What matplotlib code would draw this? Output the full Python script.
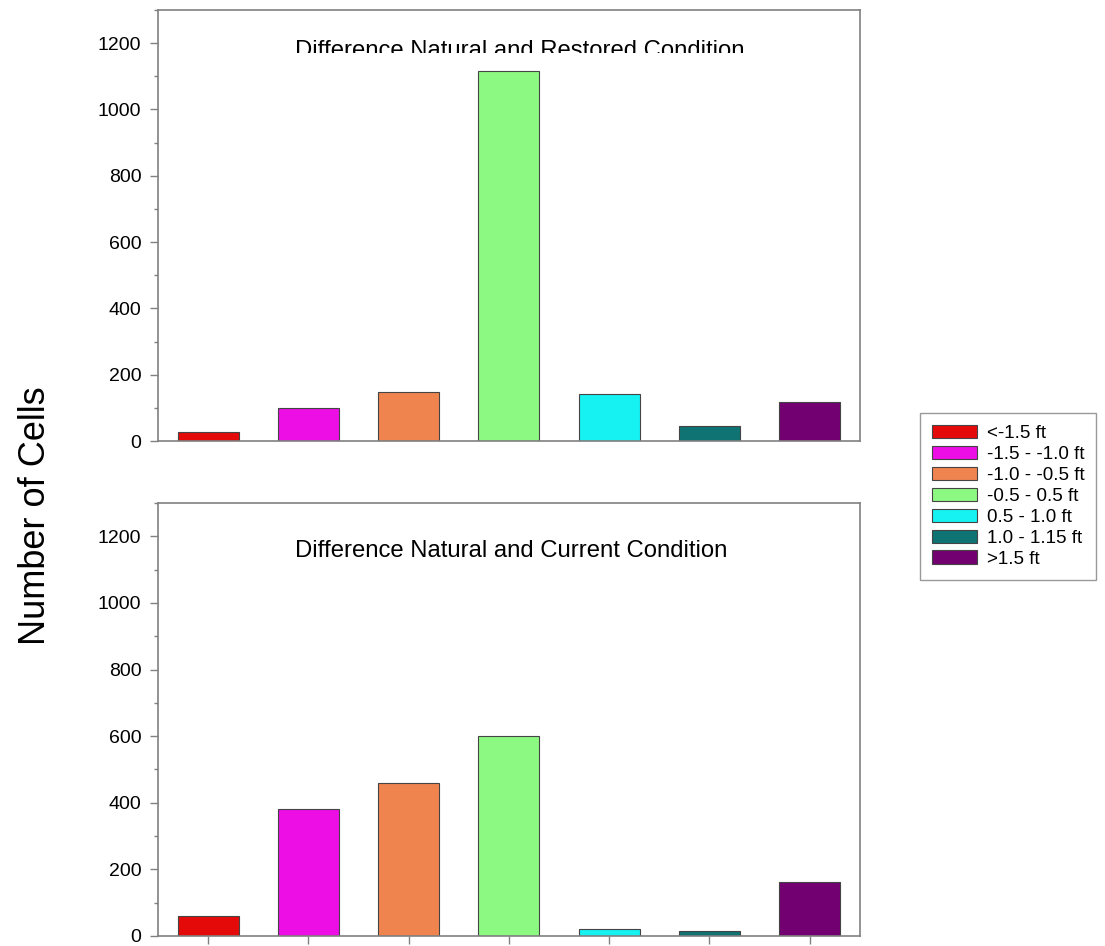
import matplotlib
matplotlib.use("Agg")
import matplotlib.pyplot as plt
from matplotlib.ticker import MultipleLocator, NullFormatter
from matplotlib.patches import Patch, Rectangle

plt.rcParams['font.family'] = ['Liberation Sans', 'DejaVu Sans']

# data
categories = ['<-1.5 ft', '-1.5 - -1.0 ft', '-1.0 - -0.5 ft', '-0.5 - 0.5 ft',
              '0.5 - 1.0 ft', '1.0 - 1.15 ft', '>1.5 ft']
restored = [28, 100, 147, 1115, 143, 46, 118]
current = [60, 380, 460, 600, 20, 15, 162]
colors = ['#e40a0a', '#ec0ee4', '#f0844f', '#8cf982', '#16f1f2', '#0f7373', '#730070']
titles = ['Difference Natural and Restored Condition', 'Difference Natural and Current Condition']

fig = plt.figure(figsize=(11.05, 9.46), dpi=100)
ax1 = fig.add_axes([0.143, 0.5338, 0.635, 0.4556])
ax2 = fig.add_axes([0.143, 0.0106, 0.635, 0.4577])

x = list(range(len(categories)))
setup = [(ax1, restored, titles[0], False, 0.516, 0.905),
         (ax2, current, titles[1], True, 0.503, 0.89)]
for ax, vals, title, xticks, tx, ty in setup:
    ax.bar(x, vals, width=0.61, color=colors, edgecolor='#444444', linewidth=0.8)
    ax.set_xlim(-0.5, 6.5)
    ax.set_ylim(0, 1300)
    ax.yaxis.set_major_locator(MultipleLocator(200))
    ax.yaxis.set_minor_locator(MultipleLocator(100))
    ax.yaxis.set_minor_formatter(NullFormatter())
    ax.tick_params(axis='y', which='major', length=6, width=1, color='#808080',
                   labelsize=14, pad=6)
    ax.tick_params(axis='y', which='minor', length=3, width=1, color='#808080')
    if xticks:
        ax.set_xticks(x)
        ax.set_xticklabels([])
        ax.tick_params(axis='x', length=6, width=1, color='#808080')
    else:
        ax.set_xticks([])
    for s in ax.spines.values():
        s.set_color('#808080')
        s.set_linewidth(1.2)
    ax.text(tx, ty, title, transform=ax.transAxes, ha='center', va='center',
            fontsize=17.2, bbox=dict(facecolor='white', edgecolor='none', pad=6))

# the top title's lower edge is clipped in the original
ax1.add_patch(Rectangle((0.17, 0.888), 0.7, 0.012, transform=ax1.transAxes,
                        facecolor='white', edgecolor='none', zorder=5))

fig.text(0.032, 0.455, 'Number of Cells', rotation=90, ha='center', va='center', fontsize=26)

handles = [Patch(facecolor=c, edgecolor='#444444', linewidth=0.8) for c in colors]
fig.legend(handles, categories, loc='upper left', bbox_to_anchor=(0.8326, 0.5634),
           borderaxespad=0, fontsize=13.5, frameon=True, fancybox=False, edgecolor='#808080',
           handlelength=2.4, handleheight=0.7, handletextpad=0.5, labelspacing=0.2,
           borderpad=0.65)

fig.savefig('out.png', dpi=100)
